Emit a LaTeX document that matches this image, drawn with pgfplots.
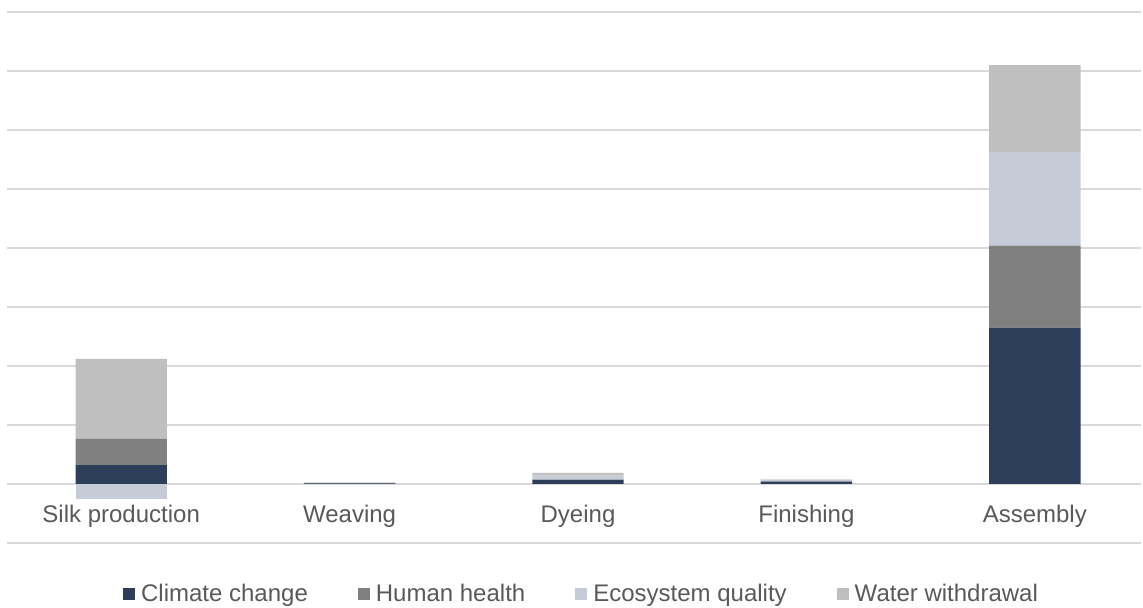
\documentclass[border=0pt]{standalone}
\usepackage{fontspec}
\setmainfont{Liberation Sans}
\usepackage{pgfplots}
\pgfplotsset{compat=1.18}
\definecolor{cc}{HTML}{2C3E5A}
\definecolor{hh}{HTML}{808080}
\definecolor{eq}{HTML}{C5CCD8}
\definecolor{ww}{HTML}{BFBFBF}
\definecolor{gridc}{HTML}{D9D9D9}
\definecolor{txt}{HTML}{595959}
\pgfplotsset{
  base/.style={
    width=567pt, height=265.5pt, scale only axis,
    at={(3.5pt,32.5pt)}, anchor=south west,
    xmin=-0.5, xmax=4.465, ymin=-1, ymax=8,
    axis line style={draw=none}, tick style={draw=none},
    ytick={-1,0,...,8}, yticklabels={},
    xtick={0,...,4},
    ybar stacked, bar width=0.4,
    font=\fontsize{12pt}{14pt}\selectfont,
  },
  sq/.style={draw=none, fill=#1,
    legend image code/.code={\fill[#1] (0pt,-3pt) rectangle (6pt,3pt);}},
}
\begin{document}
\begin{tikzpicture}
\begin{axis}[base,
  ymajorgrids, major grid style={draw=gridc, line width=1pt},
  xticklabels={Silk production, Weaving, Dyeing, Finishing, Assembly},
  xticklabel style={anchor=base, yshift=10pt, text=txt},
  legend columns=4,
  legend style={at={(axis description cs:0.5075,0)}, anchor=center, yshift=-25.5pt,
    draw=none, fill=none, font=\fontsize{12pt}{14pt}\selectfont\color{txt},
    /tikz/every odd column/.append style={column sep=1pt},
    /tikz/every even column/.append style={column sep=23pt}},
]
\addplot[sq=cc] coordinates {(0,0.32) (1,0.01) (2,0.068) (3,0.04) (4,2.65)};
\addlegendentry{Climate change}
\addplot[sq=hh] coordinates {(0,0.45) (1,0.005) (2,0.005) (3,0.003) (4,1.39)};
\addlegendentry{Human health}
\addplot[sq=eq] coordinates {(0,0) (1,0.01) (2,0.07) (3,0.03) (4,1.59)};
\addlegendentry{Ecosystem quality}
\addplot[sq=ww] coordinates {(0,1.35) (1,0.003) (2,0.045) (3,0.005) (4,1.47)};
\addlegendentry{Water withdrawal}
\end{axis}
\begin{axis}[base, xticklabels={}]
\addplot[sq=eq] coordinates {(0,-0.25)};
\end{axis}
\pgfresetboundingbox
\path (0,0) rectangle (571.5pt,304pt);
\end{tikzpicture}
\end{document}
